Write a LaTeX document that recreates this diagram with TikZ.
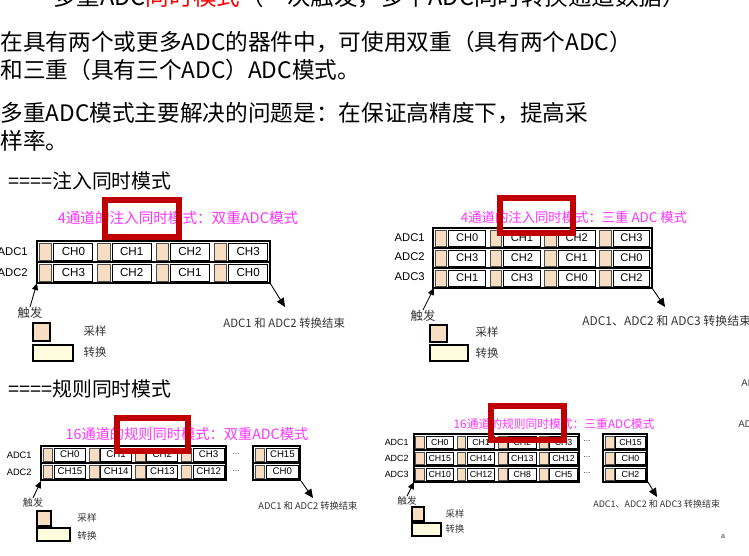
\documentclass[tikz,border=0pt]{standalone}
\usepackage{fontspec}
\setmainfont{Noto Sans CJK SC}
\newfontfamily\latinfont{Liberation Sans}
\usetikzlibrary{arrows.meta}

\definecolor{sampletan}{HTML}{F7DEC2}
\definecolor{convyellow}{HTML}{FFFBDD}
\definecolor{boxred}{HTML}{C00000}
\definecolor{titlemagenta}{HTML}{FF33FF}

\tikzset{
  samplecell/.style={draw=black!70,line width=0.3pt,fill=sampletan},
  convcell/.style={draw=black,line width=0.5pt,fill=white},
  rowframe/.style={draw=black,line width=1.3pt},
  celltext/.style={font=\latinfont\fontsize{6.6}{7}\selectfont,inner sep=0pt},
  rowlabel/.style={anchor=east,inner sep=0pt,font=\latinfont\fontsize{6.4}{7}\selectfont},
  modetitle/.style={text=titlemagenta,inner sep=0pt},
  hilite/.style={draw=boxred,line width=3.4pt},
  endarrow/.style={-{Triangle[length=5pt,width=4.5pt]},line width=0.5pt},
  trigarrow/.style={-{Triangle[length=4pt,width=3.5pt]},line width=0.5pt},
  smalltext/.style={inner sep=0pt,text=black!80},
  bodytext/.style={anchor=west,inner sep=0pt,font=\fontsize{12.9}{14}\selectfont},
}

% #1 x0, #2 top, #3 period, #4 height, #5 cells, #6 channels
\newcommand{\adcrow}[6]{%
  \foreach \ch [count=\k from 0] in {#6} {
    \draw[samplecell] (#1+\k*#3+0.04*#3,#2+2) rectangle (#1+\k*#3+0.25*#3,#2+#4-2);
    \draw[convcell] (#1+\k*#3+0.29*#3,#2+2) rectangle node[celltext]{\ch} (#1+\k*#3+0.96*#3,#2+#4-2);
  }
  \draw[rowframe] (#1,#2) rectangle (#1+#5*#3,#2+#4);
}

\begin{document}
\begin{tikzpicture}[x=0.02cm,y=-0.02cm]
\useasboundingbox (0,0) rectangle (749,555);

% text
\node[bodytext,font=\fontsize{13.4}{14}\selectfont] (head) at (53,-3) {多重ADC\textcolor{red}{同时模式}（一次触发，多个ADC同时转换通道数据）};
\node[bodytext] (line1) at (0,42) {在具有两个或更多ADC的器件中，可使用双重（具有两个ADC）};
\node[bodytext] (line2) at (0,70) {和三重（具有三个ADC）ADC模式。};
\node[bodytext] (line3) at (0,113) {多重ADC模式主要解决的问题是：在保证高精度下，提高采};
\node[bodytext] (line4) at (0,141) {样率。};
\node[bodytext,font=\fontsize{11.3}{12}\selectfont] (injhead) at (8,181) {====注入同时模式};
\node[bodytext,font=\fontsize{11.3}{12}\selectfont] (reghead) at (8,389) {====规则同时模式};

% injected, dual
\node[modetitle,font=\fontsize{8.3}{9}\selectfont] (injdual) at (178,218) {4通道的注入同时模式：双重ADC模式};
\adcrow{37}{241}{58.25}{21}{4}{CH0,CH1,CH2,CH3}
\adcrow{37}{262}{58.25}{21}{4}{CH3,CH2,CH1,CH0}
\node[rowlabel] (injdual-a1) at (28,252) {ADC1};
\node[rowlabel] (injdual-a2) at (28,273) {ADC2};
\coordinate (injdual-start) at (37,283);
\coordinate (injdual-end) at (270,283);
\coordinate (injdual-endtip) at (285,307);
\node[smalltext,font=\fontsize{7}{8}\selectfont] (injdual-trig) at (30,313) {触发};
\draw[trigarrow] (injdual-trig.north) -- (injdual-start);
\draw[endarrow] (injdual-end) -- (injdual-endtip);
\node[smalltext,anchor=west,font=\fontsize{6.5}{7}\selectfont] (injdual-done) at (223,323) {ADC1 和 ADC2 转换结束};
\draw[samplecell,line width=1.2pt,draw=black] (33,323) rectangle (50,341);
\draw[fill=convyellow,line width=1.2pt] (33,345) rectangle (73,361);
\node[smalltext,font=\fontsize{6.5}{7}\selectfont] (injdual-smp) at (95,331) {采样};
\node[smalltext,font=\fontsize{6.5}{7}\selectfont] (injdual-cnv) at (95,352) {转换};

% injected, triple
\node[modetitle,font=\fontsize{7.6}{9}\selectfont] (injtrip) at (574,217) {4通道的注入同时模式：三重 ADC 模式};
\begin{scope}[celltext/.append style={font=\latinfont\fontsize{6.3}{7}\selectfont}]
\adcrow{433}{228}{54.75}{20}{4}{CH0,CH1,CH2,CH3}
\adcrow{433}{248}{54.75}{20}{4}{CH3,CH2,CH1,CH0}
\adcrow{433}{268}{54.75}{20}{4}{CH1,CH3,CH0,CH2}
\end{scope}
\node[rowlabel] (injtrip-a1) at (425,238) {ADC1};
\node[rowlabel] (injtrip-a2) at (425,257) {ADC2};
\node[rowlabel] (injtrip-a3) at (425,277) {ADC3};
\coordinate (injtrip-start) at (434,288);
\coordinate (injtrip-end) at (652,288);
\coordinate (injtrip-endtip) at (665,307);
\node[smalltext,font=\fontsize{7}{8}\selectfont] (injtrip-trig) at (423,316) {触发};
\draw[trigarrow] (injtrip-trig.north) -- (injtrip-start);
\draw[endarrow] (injtrip-end) -- (injtrip-endtip);
\node[smalltext,anchor=west,font=\fontsize{6.8}{7}\selectfont] (injtrip-done) at (582,321) {ADC1、ADC2 和 ADC3 转换结束};
\draw[samplecell,line width=1.2pt,draw=black] (430,325) rectangle (447,342);
\draw[fill=convyellow,line width=1.2pt] (430,345) rectangle (468,361);
\node[smalltext,font=\fontsize{6.5}{7}\selectfont] (injtrip-smp) at (487,332) {采样};
\node[smalltext,font=\fontsize{6.5}{7}\selectfont] (injtrip-cnv) at (487,353) {转换};

% regular, dual
\node[modetitle,font=\fontsize{8.1}{9}\selectfont] (regdual) at (187,434) {16通道的规则同时模式：双重ADC模式};
\begin{scope}[celltext/.append style={font=\latinfont\fontsize{5.5}{6}\selectfont}]
\adcrow{41}{446}{46.25}{17}{4}{CH0,CH1,CH2,CH3}
\adcrow{41}{463}{46.25}{17}{4}{CH15,CH14,CH13,CH12}
\adcrow{253}{446}{47}{17}{1}{CH15}
\adcrow{253}{463}{47}{17}{1}{CH0}
\end{scope}
\node[smalltext,font=\latinfont\fontsize{5}{6}\selectfont] (regdual-dots1) at (236,454) {...};
\node[smalltext,font=\latinfont\fontsize{5}{6}\selectfont] (regdual-dots2) at (236,471) {...};
\node[rowlabel,font=\latinfont\fontsize{5.3}{6}\selectfont] (regdual-a1) at (32,455) {ADC1};
\node[rowlabel,font=\latinfont\fontsize{5.3}{6}\selectfont] (regdual-a2) at (32,472) {ADC2};
\coordinate (regdual-start) at (41,481);
\coordinate (regdual-end) at (301,481);
\coordinate (regdual-endtip) at (313,498);
\node[smalltext,font=\fontsize{5.7}{6}\selectfont] (regdual-trig) at (33,503) {触发};
\draw[trigarrow] (regdual-trig.north) -- (regdual-start);
\draw[endarrow] (regdual-end) -- (regdual-endtip);
\node[smalltext,anchor=west,font=\fontsize{5.3}{6}\selectfont] (regdual-done) at (258,506) {ADC1 和 ADC2 转换结束};
\draw[samplecell,line width=1pt,draw=black] (37,511) rectangle (51,526);
\draw[fill=convyellow,line width=1pt] (37,528) rectangle (70,541);
\node[smalltext,font=\fontsize{5.5}{6}\selectfont] (regdual-smp) at (87,518) {采样};
\node[smalltext,font=\fontsize{5.5}{6}\selectfont] (regdual-cnv) at (87,536) {转换};

% regular, triple
\node[modetitle,font=\fontsize{6.7}{8}\selectfont] (regtrip) at (554,424) {16通道的规则同时模式：三重ADC模式};
\begin{scope}[celltext/.append style={font=\latinfont\fontsize{5}{6}\selectfont}]
\adcrow{414}{434}{41.25}{16}{4}{CH0,CH1,CH2,CH3}
\adcrow{414}{450}{41.25}{16}{4}{CH15,CH14,CH13,CH12}
\adcrow{414}{466}{41.25}{16}{4}{CH10,CH12,CH8,CH5}
\adcrow{603}{434}{44}{16}{1}{CH15}
\adcrow{603}{450}{44}{16}{1}{CH0}
\adcrow{603}{466}{44}{16}{1}{CH2}
\end{scope}
\foreach \yy in {441,457,473}
  \node[smalltext,font=\latinfont\fontsize{5}{6}\selectfont] at (587,\yy) {...};
\node[rowlabel,font=\latinfont\fontsize{5.1}{6}\selectfont] (regtrip-a1) at (409,442) {ADC1};
\node[rowlabel,font=\latinfont\fontsize{5.1}{6}\selectfont] (regtrip-a2) at (409,458) {ADC2};
\node[rowlabel,font=\latinfont\fontsize{5.1}{6}\selectfont] (regtrip-a3) at (409,474) {ADC3};
\coordinate (regtrip-start) at (414,482);
\coordinate (regtrip-end) at (648,482);
\coordinate (regtrip-endtip) at (657,497);
\node[smalltext,font=\fontsize{5.5}{6}\selectfont] (regtrip-trig) at (407,501) {触发};
\draw[trigarrow] (regtrip-trig.north) -- (regtrip-start);
\draw[endarrow] (regtrip-end) -- (regtrip-endtip);
\node[smalltext,anchor=west,font=\fontsize{5.1}{6}\selectfont] (regtrip-done) at (593,504) {ADC1、ADC2 和 ADC3 转换结束};
\draw[samplecell,line width=1pt,draw=black] (412,507) rectangle (424,521);
\draw[fill=convyellow,line width=1pt] (412,523) rectangle (441,536);
\node[smalltext,font=\fontsize{5.3}{6}\selectfont] (regtrip-smp) at (455,514) {采样};
\node[smalltext,font=\fontsize{5.3}{6}\selectfont] (regtrip-cnv) at (455,529) {转换};
\node[smalltext,font=\latinfont\fontsize{4}{5}\selectfont] (mark) at (723,537) {a};

% cut-off texts at the right edge
\node[smalltext,anchor=west,font=\latinfont\fontsize{5.5}{6}\selectfont] (edge1) at (741,383) {ADC};
\node[smalltext,anchor=west,font=\latinfont\fontsize{5.5}{6}\selectfont] (edge2) at (738,424) {ADC};

% highlight boxes
\draw[hilite] (105,200) rectangle (179,237);
\draw[hilite] (500,198) rectangle (573,233);
\draw[hilite] (117,418) rectangle (188,451);
\draw[hilite] (491,406) rectangle (564,440);
\end{tikzpicture}
\end{document}
